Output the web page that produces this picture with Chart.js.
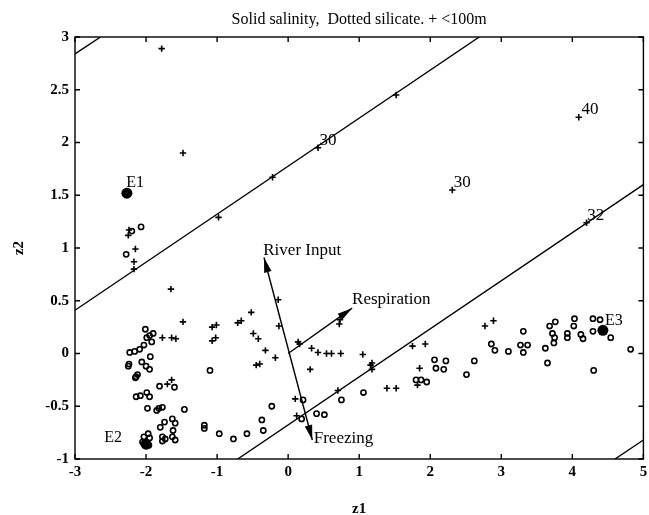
<!DOCTYPE html>
<html>
<head>
<meta charset="utf-8">
<script src="https://cdn.jsdelivr.net/npm/chart.js@4"></script>
<style>
  html, body { margin: 0; padding: 0; background: #fff; }
  canvas { display: block; }
</style>
</head>
<body>
<canvas id="chart" width="649" height="515"></canvas>
<script>
const TITLE = "Solid salinity,  Dotted silicate. + <100m";
const X_LABEL = "z1";
const Y_LABEL = "z2";

const X_TICKS = [-3, -2, -1, 0, 1, 2, 3, 4, 5];
const Y_TICKS = [-1, -0.5, 0, 0.5, 1, 1.5, 2, 2.5, 3];

// salinity contours (solid, straight and parallel)
const SAL_A = [[-3, 2.84], [-2.64, 3]];
const SAL_B = [[-3, 0.41], [2.69, 3]];
const SAL_C = [[-0.71, -1], [5, 1.6]];
const SAL_D = [[4.6, -1], [5, -0.82]];

// process vectors
const RIVER_FREEZE = [[-0.34, 0.91], [0.34, -0.82]];
const RESPIRATION = [[0, 0], [0.9, 0.43]];

// end members
const END_MEMBERS = [[-2.27, 1.52], [-2.0, -0.86], [4.43, 0.22]];

// samples < 100m (+)
const SHALLOW = [
  [-1.78, 2.89], [-1.48, 1.9], [-0.98, 1.29], [-0.22, 1.67], [1.52, 2.45],
  [0.42, 1.95], [2.31, 1.55], [4.09, 2.24], [4.2, 1.24],
  [-2.25, 1.12], [-2.24, 1.17], [-2.15, 0.99], [-2.17, 0.87], [-2.17, 0.8],
  [-1.65, 0.61], [-1.48, 0.3], [-1.07, 0.25], [-1.01, 0.27], [-1.07, 0.12], [-1.02, 0.15],
  [-1.77, 0.15], [-1.64, 0.15], [-1.58, 0.14], [-1.7, -0.29], [-1.64, -0.25],
  [-0.14, 0.51], [-0.52, 0.39], [-0.13, 0.26], [-0.71, 0.29], [-0.66, 0.31],
  [-0.49, 0.19], [-0.42, 0.14], [0.14, 0.11], [0.16, 0.09], [-0.32, 0.03], [-0.18, -0.04],
  [0.33, 0.05], [0.42, 0.01], [0.54, 0], [0.61, 0], [0.74, 0], [0.72, 0.28], [0.73, 0.32],
  [-0.45, -0.11], [-0.4, -0.1], [0.31, -0.15], [0.1, -0.43], [0.7, -0.35], [0.12, -0.59],
  [1.05, -0.01], [1.18, -0.09], [1.18, -0.15], [1.16, -0.11], [1.39, -0.33], [1.52, -0.33],
  [1.75, 0.07], [1.93, 0.09], [1.85, -0.14], [1.82, -0.3], [2.77, 0.26], [2.89, 0.31],
];

// deeper samples (o)
const DEEP = [
  [-2.2, 1.16], [-2.07, 1.2], [-2.28, 0.94],
  [-2.01, 0.23], [-1.95, 0.17], [-1.9, 0.19], [-1.92, 0.11], [-1.99, 0.15],
  [-2.03, 0.08], [-2.09, 0.04], [-2.16, 0.02], [-2.23, 0.01], [-1.94, -0.03],
  [-2.25, -0.12], [-2.24, -0.1], [-2.06, -0.08], [-2.0, -0.12], [-1.95, -0.15],
  [-2.15, -0.23], [-2.12, -0.2], [-2.14, -0.22],
  [-1.1, -0.16], [-1.81, -0.31], [-1.6, -0.32],
  [-2.14, -0.41], [-2.08, -0.4], [-1.99, -0.37], [-1.95, -0.41],
  [-1.98, -0.52], [-1.85, -0.54], [-1.82, -0.52], [-1.77, -0.51], [-1.46, -0.53],
  [-1.74, -0.65], [-1.8, -0.7], [-1.63, -0.62], [-1.59, -0.66], [-1.62, -0.73],
  [-1.18, -0.68], [-1.18, -0.71], [-1.97, -0.76],
  [-1.77, -0.79], [-1.73, -0.81], [-1.63, -0.79], [-1.59, -0.82], [-1.77, -0.83],
  [-1.95, -0.8], [-2.03, -0.79], [-2.05, -0.84], [-1.96, -0.87],
  [-0.23, -0.5], [0.21, -0.44], [0.75, -0.44], [0.19, -0.62], [0.4, -0.57], [0.51, -0.58],
  [-0.37, -0.63], [-0.35, -0.73], [-0.58, -0.76], [-0.77, -0.81], [-0.97, -0.76],
  [1.06, -0.37], [1.8, -0.25], [1.87, -0.25], [1.95, -0.27], [2.06, -0.06], [2.22, -0.07],
  [2.08, -0.14], [2.19, -0.15], [2.51, -0.2], [2.62, -0.07], [2.86, 0.09], [2.91, 0.03],
  [3.1, 0.02], [3.27, 0.08], [3.37, 0.08], [3.31, 0.01], [3.31, 0.21], [3.62, 0.05], [3.65, -0.09],
  [3.68, 0.26], [3.76, 0.3], [3.72, 0.19], [3.75, 0.15], [3.74, 0.1], [3.93, 0.19], [3.93, 0.15],
  [4.03, 0.33], [4.02, 0.26], [4.12, 0.18], [4.15, 0.14], [4.29, 0.33], [4.39, 0.32],
  [4.29, 0.21], [4.54, 0.15], [4.82, 0.04], [4.3, -0.16],
];

// text on the plot: [text, x, y] with x,y = left/baseline in data units
const ANNOTATIONS = [
  ["River Input", -0.35, 0.93],
  ["Respiration", 0.9, 0.47],
  ["Freezing", 0.36, -0.85],
  ["30", 0.44, 1.98],
  ["30", 2.33, 1.58],
  ["40", 4.13, 2.27],
  ["32", 4.21, 1.27],
];
const END_LABELS = [
  ["E1", -2.28, 1.58],
  ["E2", -2.59, -0.84],
  ["E3", 4.46, 0.27],
];

const SERIF = "'Liberation Serif', 'DejaVu Serif', serif";
const TICK_LEN = 5;

const toPts = (arr) => arr.map(([x, y]) => ({ x, y }));

function lineSet(arr) {
  return {
    data: toPts(arr),
    showLine: true,
    borderColor: "#000",
    borderWidth: 1.4,
    pointRadius: 0,
    fill: false,
  };
}

function arrowHead(ctx, fx, fy, tx, ty) {
  const ang = Math.atan2(ty - fy, tx - fx);
  ctx.save();
  ctx.translate(tx, ty);
  ctx.rotate(ang);
  ctx.beginPath();
  ctx.moveTo(0, 0);
  ctx.lineTo(-15, -3.8);
  ctx.lineTo(-15, 3.8);
  ctx.closePath();
  ctx.fill();
  ctx.restore();
}

const overlay = {
  id: "overlay",
  afterDraw(chart) {
    const { ctx, chartArea: a, scales: { x, y } } = chart;
    ctx.save();
    ctx.strokeStyle = "#000";
    ctx.fillStyle = "#000";
    ctx.lineWidth = 1.4;
    ctx.strokeRect(a.left, a.top, a.right - a.left, a.bottom - a.top);

    ctx.beginPath();
    X_TICKS.forEach((v) => {
      const px = x.getPixelForValue(v);
      ctx.moveTo(px, a.bottom);
      ctx.lineTo(px, a.bottom - TICK_LEN);
      ctx.moveTo(px, a.top);
      ctx.lineTo(px, a.top + TICK_LEN);
    });
    Y_TICKS.forEach((v) => {
      const py = y.getPixelForValue(v);
      ctx.moveTo(a.left, py);
      ctx.lineTo(a.left + TICK_LEN, py);
      ctx.moveTo(a.right, py);
      ctx.lineTo(a.right - TICK_LEN, py);
    });
    ctx.stroke();

    const px = (p) => [x.getPixelForValue(p[0]), y.getPixelForValue(p[1])];
    const [r0, r1] = RIVER_FREEZE.map(px);
    arrowHead(ctx, r1[0], r1[1], r0[0], r0[1]);
    arrowHead(ctx, r0[0], r0[1], r1[0], r1[1]);
    const [s0, s1] = RESPIRATION.map(px);
    arrowHead(ctx, s0[0], s0[1], s1[0], s1[1]);

    ctx.textBaseline = "alphabetic";
    ctx.textAlign = "left";
    ctx.font = "17px " + SERIF;
    ANNOTATIONS.forEach(([t, vx, vy]) => {
      ctx.fillText(t, x.getPixelForValue(vx), y.getPixelForValue(vy));
    });
    ctx.font = "16px " + SERIF;
    END_LABELS.forEach(([t, vx, vy]) => {
      ctx.fillText(t, x.getPixelForValue(vx), y.getPixelForValue(vy));
    });

    ctx.textAlign = "center";
    ctx.font = "16px " + SERIF;
    ctx.fillText(TITLE, (a.left + a.right) / 2, 24);
    ctx.font = "bold 15px " + SERIF;
    ctx.fillText(X_LABEL, (a.left + a.right) / 2, 513);
    ctx.translate(23, (a.top + a.bottom) / 2);
    ctx.rotate(-Math.PI / 2);
    ctx.fillText(Y_LABEL, 0, 0);
    ctx.restore();
  },
};

new Chart(document.getElementById("chart"), {
  type: "scatter",
  data: {
    datasets: [
      {
        data: toPts(END_MEMBERS),
        pointStyle: "circle",
        pointRadius: 5.5,
        backgroundColor: "#000",
        borderColor: "#000",
        borderWidth: 0,
      },
      {
        data: toPts(SHALLOW),
        pointStyle: "cross",
        pointRadius: 3.2,
        borderColor: "#000",
        borderWidth: 1.6,
      },
      {
        data: toPts(DEEP),
        pointStyle: "circle",
        pointRadius: 2.6,
        backgroundColor: "rgba(0,0,0,0)",
        borderColor: "#000",
        borderWidth: 1.6,
      },
      lineSet(RIVER_FREEZE),
      lineSet(RESPIRATION),
      lineSet(SAL_A),
      lineSet(SAL_B),
      lineSet(SAL_C),
      lineSet(SAL_D),
    ],
  },
  options: {
    responsive: false,
    animation: false,
    devicePixelRatio: 1,
    layout: { padding: { left: 0, right: 3, top: 37, bottom: 0 } },
    plugins: { legend: { display: false }, tooltip: { enabled: false } },
    scales: {
      x: {
        type: "linear",
        min: -3,
        max: 5,
        grid: { display: false, drawTicks: false },
        border: { display: false },
        afterBuildTicks: (s) => { s.ticks = X_TICKS.map((v) => ({ value: v })); },
        afterFit: (s) => { s.height = 56; s.paddingLeft = 0; s.paddingRight = 0; },
        ticks: {
          color: "#000",
          padding: 4,
          maxRotation: 0,
          font: { family: SERIF, size: 15, weight: "bold" },
          callback: (v) => String(v),
        },
      },
      y: {
        type: "linear",
        min: -1,
        max: 3,
        grid: { display: false, drawTicks: false },
        border: { display: false },
        afterBuildTicks: (s) => { s.ticks = Y_TICKS.map((v) => ({ value: v })); },
        afterFit: (s) => { s.width = 75; s.paddingTop = 0; s.paddingBottom = 0; },
        ticks: {
          color: "#000",
          padding: 6,
          font: { family: SERIF, size: 15, weight: "bold" },
          callback: (v) => String(v),
        },
      },
    },
  },
  plugins: [overlay],
});
</script>
</body>
</html>
